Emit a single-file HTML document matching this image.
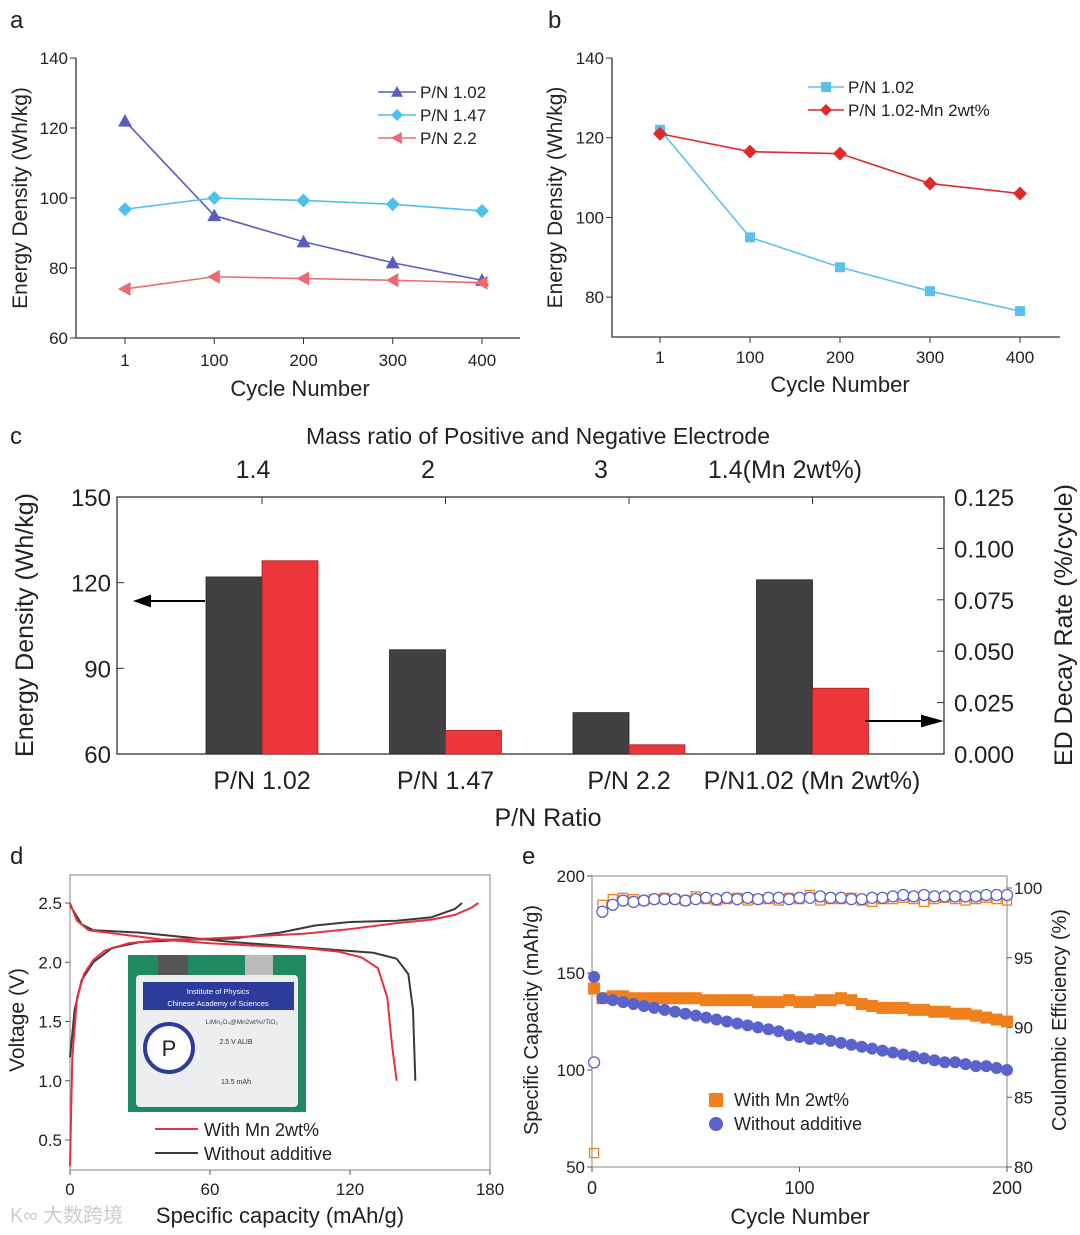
<!DOCTYPE html>
<html><head><meta charset="utf-8"><style>
html,body{margin:0;padding:0;background:#fff}
svg{display:block;font-family:"Liberation Sans",Arial,sans-serif}
</style></head><body>
<svg id="fig" width="1080" height="1235" viewBox="0 0 1080 1235" xmlns="http://www.w3.org/2000/svg">
<g font-size="24" fill="#222">
<text x="10" y="28">a</text>
<text x="548" y="28">b</text>
<text x="10" y="444">c</text>
<text x="10" y="864">d</text>
<text x="522" y="864">e</text>
</g>
<g id="pa"></g>
<g id="pb"></g>
<g id="pc"></g>
<g id="pd"></g>
<g id="pe"></g>
<text x="10" y="1222" font-size="20" fill="#ccc">K∞ 大数跨境</text>
</svg>
<script>
// ---- Panel a/b data ----
const abCycles = [1, 100, 200, 300, 400];
const aPN102 = [122, 95, 87.5, 81.5, 76.5];
const aPN147 = [96.8, 100, 99.3, 98.2, 96.3];
const aPN22 = [74, 77.5, 77, 76.5, 75.8];
const bPN102 = [122, 95, 87.5, 81.5, 76.5];
const bPNMn = [121, 116.5, 116, 108.5, 106];
const aYTicks = [60, 80, 100, 120, 140];
const bYTicks = [80, 100, 120, 140];
// ---- Panel c data ----
const cCats = ["P/N 1.02", "P/N 1.47", "P/N 2.2", "P/N1.02 (Mn 2wt%)"];
const cTop = ["1.4", "2", "3", "1.4(Mn 2wt%)"];
const cEnergy = [122, 96.5, 74.5, 121];
const cDecay = [0.094, 0.0115, 0.0045, 0.032];
const cYTicks = [60, 90, 120, 150];
const cY2Ticks = ["0.000", "0.025", "0.050", "0.075", "0.100", "0.125"];
// ---- Panel d data ([capacity, voltage]) ----
const dRedCharge = [[0,0.28],[1,1.2],[3,1.7],[6,1.9],[10,2.02],[15,2.1],[25,2.16],[40,2.19],[60,2.2],[80,2.22],[100,2.24],[120,2.28],[140,2.33],[155,2.36],[165,2.4],[172,2.46],[175,2.5]];
const dRedDis = [[0,2.5],[3,2.35],[8,2.27],[20,2.24],[40,2.19],[60,2.16],[80,2.14],[100,2.12],[115,2.09],[125,2.04],[132,1.95],[136,1.7],[138,1.3],[140,1.0]];
const dBlkCharge = [[0,1.2],[2,1.6],[5,1.85],[10,2.0],[18,2.12],[30,2.17],[50,2.19],[70,2.2],[90,2.25],[105,2.31],[120,2.34],[140,2.35],[155,2.38],[165,2.45],[168,2.5]];
const dBlkDis = [[0,2.48],[5,2.32],[10,2.27],[30,2.25],[50,2.21],[70,2.17],[90,2.14],[110,2.11],[130,2.08],[140,2.03],[145,1.9],[147,1.6],[148,1.0]];
const dXTicks = [0, 60, 120, 180];
const dYTicks = [0.5, 1.0, 1.5, 2.0, 2.5];
// ---- Panel e data ----
const eCycles = [1,5,10,15,20,25,30,35,40,45,50,55,60,65,70,75,80,85,90,95,100,105,110,115,120,125,130,135,140,145,150,155,160,165,170,175,180,185,190,195,200];
const eCapMn = [142,137,138,138,137,137,137,137,137,137,137,136,136,136,136,136,135,135,135,136,135,135,136,136,137,136,134,133,132,132,132,131,131,130,130,129,129,128,127,126,125];
const eCapNo = [148,137,136,135,134,133,132,131,130,129,128,127,126,125,124,123,122,121,120,118,117,116,116,115,114,113,112,111,110,109,108,107,106,105,104,104,103,102,102,101,100];
const eCEMn = [81,98.8,99.2,99.3,99.2,99.1,99.2,99.3,99.2,99.1,99.4,99.2,99.1,99.2,99.3,99.1,99.2,99.2,99.1,99.3,99.2,99.5,99.1,99.2,99.2,99.3,99.1,99.0,99.2,99.2,99.3,99.2,99.0,99.2,99.3,99.2,99.1,99.2,99.3,99.2,99.1];
const eCENo = [87.5,98.3,98.8,99.1,99.0,99.1,99.2,99.2,99.2,99.1,99.2,99.3,99.2,99.3,99.2,99.3,99.2,99.3,99.3,99.2,99.3,99.3,99.4,99.3,99.3,99.2,99.2,99.3,99.3,99.4,99.5,99.4,99.5,99.4,99.4,99.4,99.4,99.4,99.5,99.5,99.5];
const eXTicks = [0, 100, 200];
const eYTicks = [50, 100, 150, 200];
const eY2Ticks = [80, 85, 90, 95, 100];

const NS = "http://www.w3.org/2000/svg";
function mk(parent, tag, attrs, txt) {
  const e = document.createElementNS(NS, tag);
  for (const k in attrs) e.setAttribute(k, attrs[k]);
  if (txt !== undefined) e.textContent = txt;
  parent.appendChild(e);
  return e;
}
function lin(d0, d1, r0, r1) { return v => r0 + (v - d0) * (r1 - r0) / (d1 - d0); }
function marker(g, type, x, y, s, color, fill) {
  let el;
  if (type === "tri") el = mk(g, "polygon", {points: `${x},${y-s} ${x-s},${y+s*0.8} ${x+s},${y+s*0.8}`, fill: color});
  else if (type === "ltri") el = mk(g, "polygon", {points: `${x-s},${y} ${x+s*0.8},${y-s} ${x+s*0.8},${y+s}`, fill: color});
  else if (type === "dia") el = mk(g, "polygon", {points: `${x},${y-s} ${x+s},${y} ${x},${y+s} ${x-s},${y}`, fill: color});
  else if (type === "sq") el = mk(g, "rect", {x: x-s, y: y-s, width: 2*s, height: 2*s, fill: fill === false ? "none" : color, stroke: color, "stroke-width": fill === false ? 1.3 : 0});
  else el = mk(g, "circle", {cx: x, cy: y, r: s, fill: fill === false ? "#fff" : color, stroke: color, "stroke-width": fill === false ? 1.3 : 0});
  return el;
}

// ===== Panel a =====
(function () {
  const g = document.getElementById("pa");
  const L = 76, R = 520, T = 58, B = 338;
  const xi = lin(0, 4, 125, 482), y = lin(60, 140, B, T);
  const ax = mk(g, "path", {d: `M${L},${T}V${B}H${R}`, stroke: "#333", fill: "none", "stroke-width": 1.3});
  
  
  aYTicks.forEach(v => {
    mk(g, "line", {x1: L - 6, x2: L, y1: y(v), y2: y(v), stroke: "#333"});
    const t = mk(g, "text", {x: L - 8, y: y(v) + 6, "text-anchor": "end", "font-size": 17, fill: "#222"}, v);
    
    
  });
  abCycles.forEach((c, i) => {
    mk(g, "line", {x1: xi(i), x2: xi(i), y1: B, y2: B + 6, stroke: "#333"});
    const t = mk(g, "text", {x: xi(i), y: B + 28, "text-anchor": "middle", "font-size": 17, fill: "#222"}, c);
    
    
  });
  let t = mk(g, "text", {x: 300, y: 396, "text-anchor": "middle", "font-size": 22, fill: "#222"}, "Cycle Number");
   
  t = mk(g, "text", {x: 0, y: 0, transform: `translate(27,${(T+B)/2}) rotate(-90)`, "text-anchor": "middle", "font-size": 21, fill: "#222"}, "Energy Density (Wh/kg)");
   
  const series = [[aPN102, "#5a5cc0", "tri", "P/N 1.02"], [aPN147, "#4fc0ee", "dia", "P/N 1.47"], [aPN22, "#ee6a70", "ltri", "P/N 2.2"]];
  series.forEach(([vals, col, m, name], k) => {
    const p = mk(g, "polyline", {points: vals.map((v, i) => `${xi(i)},${y(v)}`).join(" "), stroke: col, fill: "none", "stroke-width": 1.6});
    
    
    vals.forEach((v, i) => {
      const mm = marker(g, m, xi(i), y(v), 7, col);
      
      
    });
    const ly = 92 + k * 23;
    mk(g, "line", {x1: 378, x2: 416, y1: ly, y2: ly, stroke: col, "stroke-width": 1.6});
    marker(g, m, 397, ly, 6, col);
    const lt = mk(g, "text", {x: 420, y: ly + 6, "font-size": 17, fill: "#222"}, name);
    
    
  });
})();

// ===== Panel b =====
(function () {
  const g = document.getElementById("pb");
  const L = 612, R = 1060, T = 58, B = 337;
  const xi = lin(0, 4, 660, 1020), y = lin(70, 140, B, T);
  const ax = mk(g, "path", {d: `M${L},${T}V${B}H${R}`, stroke: "#333", fill: "none", "stroke-width": 1.3});
  
  
  bYTicks.forEach(v => {
    mk(g, "line", {x1: L - 6, x2: L, y1: y(v), y2: y(v), stroke: "#333"});
    const t = mk(g, "text", {x: L - 8, y: y(v) + 6, "text-anchor": "end", "font-size": 17, fill: "#222"}, v);
    
    
  });
  abCycles.forEach((c, i) => {
    mk(g, "line", {x1: xi(i), x2: xi(i), y1: B, y2: B + 6, stroke: "#333"});
    const t = mk(g, "text", {x: xi(i), y: B + 26, "text-anchor": "middle", "font-size": 17, fill: "#222"}, c);
    
    
  });
  let t = mk(g, "text", {x: 840, y: 392, "text-anchor": "middle", "font-size": 22, fill: "#222"}, "Cycle Number");
   
  t = mk(g, "text", {x: 0, y: 0, transform: `translate(562,${(T+B)/2}) rotate(-90)`, "text-anchor": "middle", "font-size": 21, fill: "#222"}, "Energy Density (Wh/kg)");
   
  const series = [[bPN102, "#5cc0ee", "sq", "P/N 1.02"], [bPNMn, "#e02a2a", "dia", "P/N 1.02-Mn 2wt%"]];
  series.forEach(([vals, col, m, name], k) => {
    const p = mk(g, "polyline", {points: vals.map((v, i) => `${xi(i)},${y(v)}`).join(" "), stroke: col, fill: "none", "stroke-width": 1.6});
    
    
    vals.forEach((v, i) => {
      const mm = marker(g, m, xi(i), y(v), m === "sq" ? 5 : 7, col);
      
      
    });
    const ly = 87 + k * 23;
    mk(g, "line", {x1: 808, x2: 844, y1: ly, y2: ly, stroke: col, "stroke-width": 1.6});
    marker(g, m, 826, ly, m === "sq" ? 5 : 6, col);
    const lt = mk(g, "text", {x: 848, y: ly + 6, "font-size": 17, fill: "#222"}, name);
    
    
  });
})();

// ===== Panel c =====
(function () {
  const g = document.getElementById("pc");
  const L = 117, R = 944, T = 497, B = 754;
  const y = lin(60, 150, B, T), y2 = lin(0, 0.125, B, T);
  const cx = i => 262 + i * 183.5;
  const topX = [253, 428, 601, 785];
  const ax = mk(g, "rect", {x: L, y: T, width: R - L, height: B - T, stroke: "#333", fill: "none", "stroke-width": 1.3});
  
  
  cYTicks.forEach(v => {
    mk(g, "line", {x1: L, x2: L + 7, y1: y(v), y2: y(v), stroke: "#333"});
    const t = mk(g, "text", {x: L - 6, y: y(v) + 9, "text-anchor": "end", "font-size": 24, fill: "#222"}, v);
     
  });
  cY2Ticks.forEach(v => {
    const yy = y2(parseFloat(v));
    mk(g, "line", {x1: R - 7, x2: R, y1: yy, y2: yy, stroke: "#333"});
    const t = mk(g, "text", {x: R + 10, y: yy + 9, "font-size": 24, fill: "#222"}, v);
     
  });
  cCats.forEach((c, i) => {
    mk(g, "line", {x1: cx(i), x2: cx(i), y1: B, y2: B - 7, stroke: "#333"});
    mk(g, "line", {x1: cx(i), x2: cx(i), y1: T, y2: T + 7, stroke: "#333"});
    const gb = mk(g, "rect", {x: cx(i) - 56, y: y(cEnergy[i]), width: 56, height: B - y(cEnergy[i]), fill: "#414141", stroke: "#222", "stroke-width": 0.8});
     
    const rb = mk(g, "rect", {x: cx(i), y: y2(cDecay[i]), width: 56, height: B - y2(cDecay[i]), fill: "#ec363c", stroke: "#a22", "stroke-width": 0.8});
     
    const t = mk(g, "text", {x: i === 3 ? 812 : cx(i), y: 789, "text-anchor": "middle", "font-size": 25, fill: "#222"}, c);
     
    const t2 = mk(g, "text", {x: topX[i], y: 478, "text-anchor": "middle", "font-size": 25, fill: "#222"}, cTop[i]);
     
  });
  let t = mk(g, "text", {x: 538, y: 444, "text-anchor": "middle", "font-size": 23, fill: "#222"}, "Mass ratio of Positive and Negative Electrode");
   
  t = mk(g, "text", {x: 548, y: 826, "text-anchor": "middle", "font-size": 25, fill: "#222"}, "P/N Ratio");
   
  t = mk(g, "text", {x: 0, y: 0, transform: `translate(33,625) rotate(-90)`, "text-anchor": "middle", "font-size": 25, fill: "#222"}, "Energy Density (Wh/kg)");
   
  t = mk(g, "text", {x: 0, y: 0, transform: `translate(1072,625) rotate(-90)`, "text-anchor": "middle", "font-size": 25, fill: "#222"}, "ED Decay Rate (%/cycle)");
   
  let a = mk(g, "path", {d: "M205,601H142M150,596L136,601L150,606Z", stroke: "#000", "stroke-width": 2, fill: "#000"});
   
  a = mk(g, "path", {d: "M865,721H930M922,716L940,721L922,726Z", stroke: "#000", "stroke-width": 2, fill: "#000"});
   
})();

// ===== Panel d =====
(function () {
  const g = document.getElementById("pd");
  const L = 70, R = 490, T = 875, B = 1170;
  const x = lin(0, 180, L, R), y = lin(0.5, 2.5, 1140, 903);
  const ax = mk(g, "rect", {x: L, y: T, width: R - L, height: B - T, stroke: "#999", fill: "none", "stroke-width": 1.2});
   
  dYTicks.forEach(v => {
    mk(g, "line", {x1: L - 5, x2: L, y1: y(v), y2: y(v), stroke: "#555"});
    const t = mk(g, "text", {x: L - 8, y: y(v) + 6, "text-anchor": "end", "font-size": 17, fill: "#222"}, v.toFixed(1));
     
  });
  dXTicks.forEach(v => {
    mk(g, "line", {x1: x(v), x2: x(v), y1: B, y2: B + 5, stroke: "#555"});
    const t = mk(g, "text", {x: x(v), y: 1195, "text-anchor": "middle", "font-size": 17, fill: "#222"}, v);
     
  });
  let t = mk(g, "text", {x: 280, y: 1223, "text-anchor": "middle", "font-size": 22, fill: "#222"}, "Specific capacity (mAh/g)");
   
  t = mk(g, "text", {x: 0, y: 0, transform: `translate(24,1020) rotate(-90)`, "text-anchor": "middle", "font-size": 21, fill: "#222"}, "Voltage (V)");
   
  const ph = mk(g, "g", {});
   
  mk(ph, "rect", {x: 128, y: 955, width: 178, height: 157, fill: "#1f8a62"});
  mk(ph, "rect", {x: 158, y: 955, width: 30, height: 25, fill: "#555"});
  mk(ph, "rect", {x: 245, y: 955, width: 28, height: 25, fill: "#bbb"});
  mk(ph, "rect", {x: 136, y: 975, width: 162, height: 132, fill: "#eceef0", rx: 4});
  mk(ph, "rect", {x: 143, y: 982, width: 151, height: 28, fill: "#2d3b9c"});
  mk(ph, "text", {x: 218, y: 994, "text-anchor": "middle", "font-size": 7.5, fill: "#fff"}, "Institute of Physics");
  mk(ph, "text", {x: 218, y: 1006, "text-anchor": "middle", "font-size": 7.5, fill: "#fff"}, "Chinese Academy of Sciences");
  mk(ph, "text", {x: 278, y: 1024, "text-anchor": "end", "font-size": 6.5, fill: "#444"}, "LiMn₂O₄@Mn2wt%//TiO₂");
  mk(ph, "circle", {cx: 169, cy: 1048, r: 24, fill: "#fff", stroke: "#2d3b9c", "stroke-width": 4});
  mk(ph, "text", {x: 169, y: 1056, "text-anchor": "middle", "font-size": 22, fill: "#222"}, "P");
  mk(ph, "text", {x: 236, y: 1044, "text-anchor": "middle", "font-size": 7, fill: "#333"}, "2.5 V ALIB");
  mk(ph, "text", {x: 236, y: 1084, "text-anchor": "middle", "font-size": 7, fill: "#333"}, "13.5 mAh");
  const curves = [[dBlkCharge, "#3a3a3a"], [dBlkDis, "#3a3a3a"], [dRedCharge, "#e8303a"], [dRedDis, "#e8303a"]];
  curves.forEach(([pts, col], k) => {
    const p = mk(g, "polyline", {points: pts.map(q => `${x(q[0])},${y(q[1])}`).join(" "), stroke: col, fill: "none", "stroke-width": 2, "stroke-linejoin": "round"});
     
  });
  [["With Mn 2wt%", "#e8303a"], ["Without additive", "#3a3a3a"]].forEach(([n, col], k) => {
    const ly = 1129 + k * 24;
    mk(g, "line", {x1: 155, x2: 198, y1: ly, y2: ly, stroke: col, "stroke-width": 2});
    const lt = mk(g, "text", {x: 204, y: ly + 7, "font-size": 18, fill: "#222"}, n);
     
  });
})();

// ===== Panel e =====
(function () {
  const g = document.getElementById("pe");
  const L = 592, R = 1007, T = 876, B = 1167;
  const x = lin(0, 200, L, R), y = lin(50, 200, B, T), y2 = lin(80, 100, B, 888);
  const ax = mk(g, "rect", {x: L, y: T, width: R - L, height: B - T, stroke: "#999", fill: "none", "stroke-width": 1.2});
   
  eYTicks.forEach(v => {
    mk(g, "line", {x1: L - 5, x2: L, y1: y(v), y2: y(v), stroke: "#555"});
    const t = mk(g, "text", {x: L - 7, y: y(v) + 6, "text-anchor": "end", "font-size": 17, fill: "#222"}, v);
     
  });
  eY2Ticks.forEach(v => {
    mk(g, "line", {x1: R, x2: R + 5, y1: y2(v), y2: y2(v), stroke: "#555"});
    const t = mk(g, "text", {x: R + 7, y: y2(v) + 6, "font-size": 17, fill: "#222"}, v);
     
  });
  eXTicks.forEach(v => {
    mk(g, "line", {x1: x(v), x2: x(v), y1: B, y2: B + 5, stroke: "#555"});
    const t = mk(g, "text", {x: x(v), y: 1194, "text-anchor": "middle", "font-size": 18, fill: "#222"}, v);
     
  });
  let t = mk(g, "text", {x: 800, y: 1224, "text-anchor": "middle", "font-size": 22, fill: "#222"}, "Cycle Number");
   
  t = mk(g, "text", {x: 0, y: 0, transform: `translate(538,1020) rotate(-90)`, "text-anchor": "middle", "font-size": 20, fill: "#222"}, "Specific Capacity (mAh/g)");
   
  t = mk(g, "text", {x: 0, y: 0, transform: `translate(1066,1020) rotate(-90)`, "text-anchor": "middle", "font-size": 20, fill: "#222"}, "Coulombic Efficiency (%)");
   
  const OR = "#f0801e", BL = "#5a62cc";
  eCycles.forEach((c, i) => {
    let m = marker(g, "sq", x(c), y2(eCEMn[i]), 4.5, OR, false);
     
    m = marker(g, "circ", x(c), y2(eCENo[i]), 5.5, BL, false);
     
  });
  eCycles.forEach((c, i) => {
    let m = marker(g, "sq", x(c), y(eCapMn[i]), 6, OR);
     
  });
  eCycles.forEach((c, i) => {
    let m = marker(g, "circ", x(c), y(eCapNo[i]), 6, BL);
     
  });
  [["With Mn 2wt%", OR, "sq"], ["Without additive", BL, "circ"]].forEach(([n, col, m], k) => {
    const ly = 1100 + k * 24;
    marker(g, m, 716, ly, 7, col);
    const lt = mk(g, "text", {x: 734, y: ly + 6, "font-size": 18, fill: "#222"}, n);
     
  });
})();
</script>
</body></html>
